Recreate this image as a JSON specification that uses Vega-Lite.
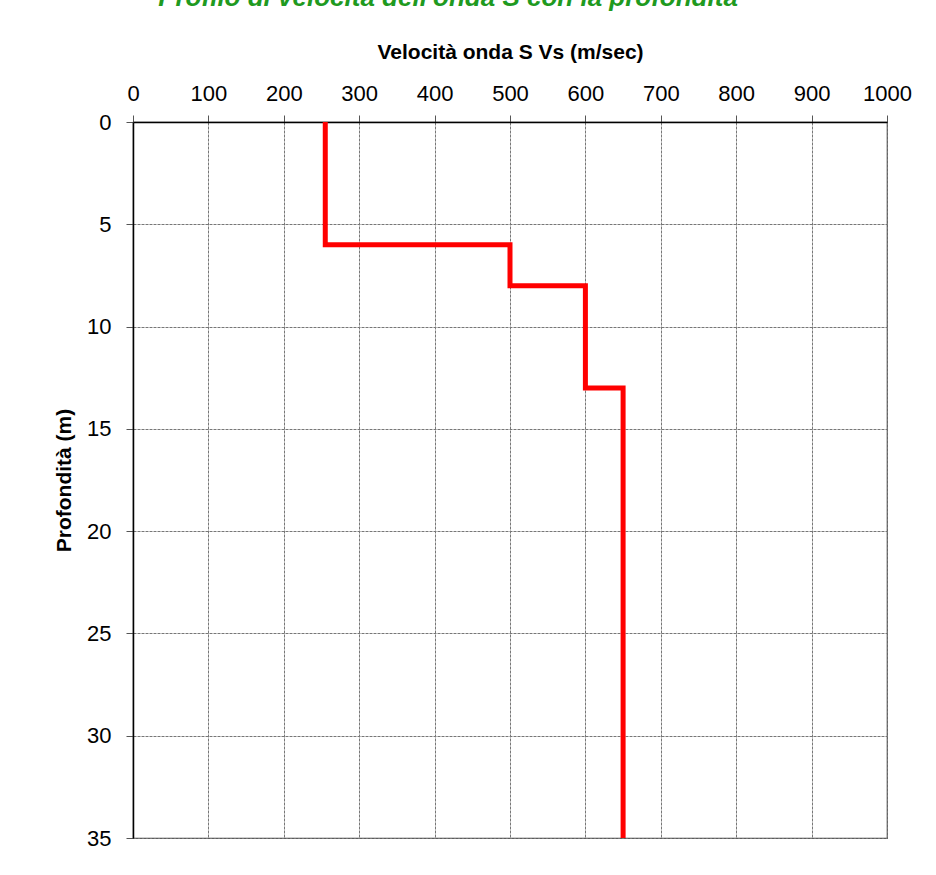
{
  "$schema": "https://vega.github.io/schema/vega-lite/v6.json",
  "autosize": {"type": "none"},
  "width": 754,
  "height": 716,
  "padding": {"left": 133, "top": 122, "right": 49, "bottom": 37},
  "background": "white",
  "title": {
    "text": "Profilo di velocità dell'onda S con la profondità",
    "color": "#1f9a1f",
    "font": "Liberation Sans",
    "fontSize": 26,
    "fontWeight": "bold",
    "fontStyle": "italic",
    "anchor": "middle",
    "frame": "group",
    "dx": -62,
    "offset": 30
  },
  "data": {
    "values": [
      {"ord": 1, "vs": 255, "depth": 0},
      {"ord": 2, "vs": 255, "depth": 6},
      {"ord": 3, "vs": 500, "depth": 6},
      {"ord": 4, "vs": 500, "depth": 8},
      {"ord": 5, "vs": 600, "depth": 8},
      {"ord": 6, "vs": 600, "depth": 13},
      {"ord": 7, "vs": 650, "depth": 13},
      {"ord": 8, "vs": 650, "depth": 35}
    ]
  },
  "mark": {"type": "line", "color": "#ff0000", "strokeWidth": 5, "strokeJoin": "miter", "strokeCap": "butt", "clip": false},
  "encoding": {
    "x": {
      "field": "vs",
      "type": "quantitative",
      "scale": {"domain": [0, 1000], "nice": false, "zero": false},
      "axis": {
        "orient": "top",
        "title": "Velocità onda S Vs (m/sec)",
        "values": [0, 100, 200, 300, 400, 500, 600, 700, 800, 900, 1000],
        "format": "d",
        "titlePadding": 20
      }
    },
    "y": {
      "field": "depth",
      "type": "quantitative",
      "scale": {"domain": [0, 35], "reverse": true, "nice": false, "zero": false},
      "axis": {
        "title": "Profondità (m)",
        "values": [0, 5, 10, 15, 20, 25, 30, 35],
        "format": "d",
        "titlePadding": 12
      }
    },
    "order": {"field": "ord", "type": "quantitative"}
  },
  "config": {
    "font": "Liberation Sans",
    "view": {"stroke": "#444", "strokeWidth": 1.2},
    "axis": {
      "labelFont": "Liberation Sans",
      "labelFontSize": 22,
      "labelColor": "#000",
      "titleFont": "Liberation Sans",
      "titleFontSize": 21,
      "titleFontWeight": "bold",
      "titleColor": "#000",
      "domainColor": "#000",
      "domainWidth": 1.5,
      "tickColor": "#555",
      "tickSize": 7,
      "tickWidth": 1,
      "labelPadding": 10,
      "gridColor": "#777",
      "gridDash": [3, 1],
      "gridWidth": 1,
      "gridOpacity": 1,
      "labelOverlap": false,
      "labelFlush": false
    },
    "axisY": {"labelPadding": 15}
  }
}
